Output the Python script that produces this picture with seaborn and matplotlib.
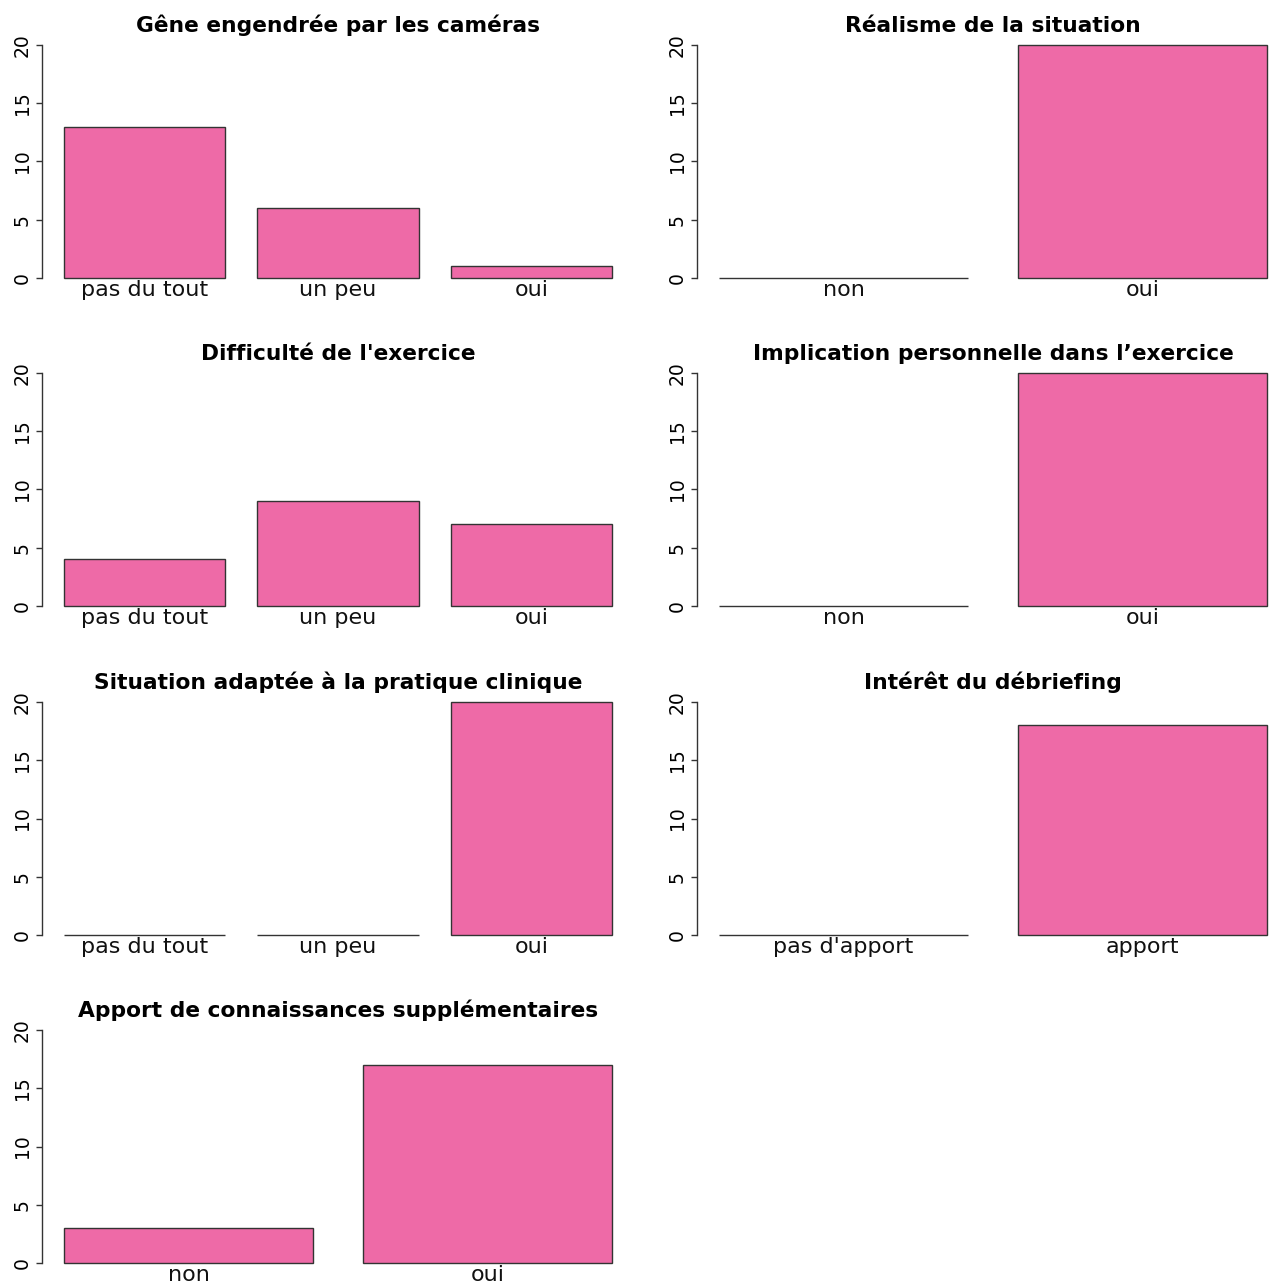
import matplotlib
matplotlib.use("Agg")
import matplotlib.pyplot as plt
import seaborn as sns

# Survey answers (counts per answer)
titles = [
    "Gêne engendrée par les caméras",
    "Réalisme de la situation",
    "Difficulté de l'exercice",
    "Implication personnelle dans l\u2019exercice",
    "Situation adaptée à la pratique clinique",
    "Intérêt du débriefing",
    "Apport de connaissances supplémentaires",
]
cats_3 = ["pas du tout", "un peu", "oui"]
cats_yn = ["non", "oui"]
cats_apport = ["pas d'apport", "apport"]

gene_cameras = [13, 6, 1]
realisme = [0, 20]
difficulte = [4, 9, 7]
implication = [0, 20]
situation_adaptee = [0, 0, 20]
interet_debriefing = [0, 18]
apport_connaissances = [3, 17]

panels = [
    (cats_3, gene_cameras),
    (cats_yn, realisme),
    (cats_3, difficulte),
    (cats_yn, implication),
    (cats_3, situation_adaptee),
    (cats_apport, interet_debriefing),
    (cats_yn, apport_connaissances),
]
y_ticks = [0, 5, 10, 15, 20]

sns.set_style("white")
plt.rcParams['font.family'] = ['DejaVu Sans']
plt.rcParams['text.color'] = 'black'
plt.rcParams['xtick.color'] = 'black'
plt.rcParams['ytick.color'] = 'black'
plt.rcParams['axes.titlecolor'] = 'black'

W, H = 1274, 1286
fig = plt.figure(figsize=(W / 100, H / 100), dpi=100)

bar_color = "#EE6AA7"
edge = "#333333"
bar_w = 1 / 1.2

# pixel layout of plot regions (R base-graphics look)
col_left = [42, 697]
col_width = 592
row_zero = [278, 606, 935, 1263]   # pixel of y=0
px_per_unit = 233 / 20

for i, (title, (cats, vals)) in enumerate(zip(titles, panels)):
    r, c = divmod(i, 2)
    top = row_zero[r] - 20.8 * px_per_unit
    bottom = row_zero[r] + 0.8 * px_per_unit
    ax = fig.add_axes([col_left[c] / W, 1 - bottom / H, col_width / W, (bottom - top) / H])
    sns.barplot(x=cats, y=vals, ax=ax, color=bar_color, saturation=1,
                edgecolor=edge, linewidth=1, width=bar_w)
    n = len(cats)
    span = n - 1 + bar_w
    pad = 0.04 * span
    ax.set_xlim(-bar_w / 2 - pad, n - 1 + bar_w / 2 + pad)
    ax.set_ylim(-0.8, 20.8)
    ax.set_yticks(y_ticks)
    ax.set_yticklabels([str(t) for t in y_ticks], rotation=90, va="center", fontsize=13.5)
    ax.tick_params(axis="y", length=4.5, width=1, color=edge, pad=3, left=True)
    ax.tick_params(axis="x", length=0, pad=-5.5, labelsize=16)
    for lab in ax.get_xticklabels():
        lab.set_color("#111111")
    for s in ["top", "right", "bottom"]:
        ax.spines[s].set_visible(False)
    ax.spines["left"].set_bounds(0, 20)
    ax.spines["left"].set_color(edge)
    ax.spines["left"].set_linewidth(1)
    ax.set_xlabel("")
    ax.set_ylabel("")
    ax.set_title(title, fontsize=15.7, fontweight="bold", pad=3)
    ax.patch.set_alpha(0)

fig.savefig("out.png", dpi=100, facecolor="white")
